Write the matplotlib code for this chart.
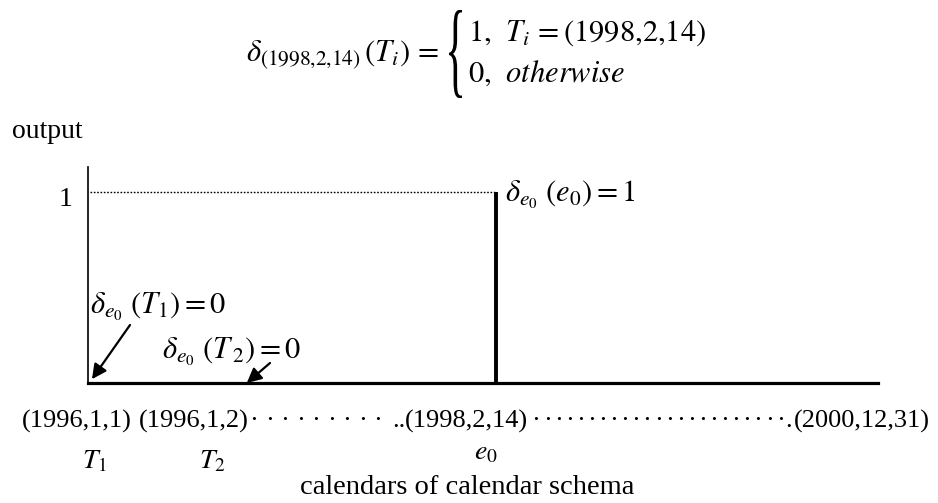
import matplotlib
matplotlib.use('Agg')
import matplotlib.pyplot as plt
from matplotlib.textpath import TextPath
from matplotlib.patches import PathPatch
from matplotlib.font_manager import FontProperties
from matplotlib.transforms import Affine2D, IdentityTransform

plt.rcParams['font.family'] = ['Liberation Serif', 'DejaVu Serif']
plt.rcParams['mathtext.fontset'] = 'stix'

# data: the calendars on the axis and the output of delta_(1998,2,14)
calendars = ['(1996,1,1)', '(1996,1,2)', '(1998,2,14)', '(2000,12,31)']
cal_names = ['$T_1$', '$T_2$', '$e_0$', '']
output = [0, 0, 1, 0]
x_slot = [0.005, 0.201, 0.517, 1.0]   # schematic place of each calendar on the axis

W, H = 938, 503
fig = plt.figure(figsize=(W / 100, H / 100), dpi=100)


def fx(x):
    return x / W


def fy(y):
    return 1 - y / H


def put(x, y, s, **kw):
    kw.setdefault('va', 'center')
    return fig.text(fx(x), fy(y), s, **kw)


# AXES
ax = fig.add_axes([fx(88), fy(383), (878 - 88) / W, (383 - 167) / H])
ax.set_xlim(0, 1)
ax.set_ylim(0, 1.131)
for s in ['top', 'right']:
    ax.spines[s].set_visible(False)
ax.spines['left'].set_linewidth(1.2)
ax.spines['bottom'].set_linewidth(2.3)
ax.set_xticks([])
ax.set_yticks([])

# stems and dotted guide
ax.vlines(x_slot, 0, output, colors='black', lw=2.8, capstyle='butt', clip_on=False)
i1 = output.index(1)
ax.hlines(output[i1], 0.003, x_slot[i1], colors='black', lw=1.0,
          linestyles=(0, (1.2, 1.2)), clip_on=False)

# arrows to the zero points
arr = dict(arrowstyle='-|>', color='black', lw=1.6, mutation_scale=22, shrinkA=0, shrinkB=0)
ax.annotate('', xy=(x_slot[0], 0.02), xycoords='data', xytext=(130, H - 325),
            textcoords='figure pixels', arrowprops=arr, annotation_clip=False)
ax.annotate('', xy=(x_slot[1], 0.0), xycoords='data', xytext=(270, H - 363),
            textcoords='figure pixels', arrowprops=arr, annotation_clip=False)

# labels inside plot
put(90, 307, r'$\delta_{e_0}\,\,(T_1) = 0$', fontsize=22)
put(162, 352, r'$\delta_{e_0}\,\,(T_{\,2}) = 0$', fontsize=22)
put(505, 195, r'$\delta_{e_0}\,\,(e_0) = 1$', fontsize=22)
put(66, 200, '1', fontsize=20, ha='center')
put(12, 131, 'output', fontsize=20)

# formula on top
put(246, 55, r'$\delta_{(1998{,}2{,}14)}\,(T_i)\, =$', fontsize=22)
put(468, 33, r'$1{,}\ \ T_i\, = (1998{,}2{,}14)$', fontsize=22)
put(468, 74, r'$0{,}\ \ otherwise$', fontsize=22)

fp = FontProperties(family='Liberation Serif')
tp = TextPath((0, 0), '{', size=1, prop=fp)
ext = tp.get_extents()
tr = Affine2D().translate(-ext.x0, -ext.y0).scale(13 / ext.width, 88 / ext.height).translate(449, H - 98)
fig.add_artist(PathPatch(tr.transform_path(tp), transform=IdentityTransform(), fc='black', lw=0))

# calendar row
row_y = 421
rs = 19
put(22, row_y, calendars[0], fontsize=rs)
put(139, row_y, calendars[1], fontsize=rs)
put(405, row_y, '..', fontsize=rs, ha='right')
put(405, row_y, calendars[2], fontsize=rs)
put(930, row_y, calendars[3], fontsize=rs, ha='right')
put(792, row_y, '.', fontsize=rs, ha='right')
for i in range(9):
    put(254 + i * 15.5, row_y, '\u00b7', fontsize=rs, ha='center')
for i in range(23):
    put(536 + i * 11.1, row_y, '\u00b7', fontsize=rs, ha='center')

put(95, 462, cal_names[0], fontsize=20, ha='center')
put(212, 462, cal_names[1], fontsize=20, ha='center')
put(486, 453, cal_names[2], fontsize=20, ha='center')
put(467, 487, 'calendars of calendar schema', fontsize=20.5, ha='center')

fig.savefig('out.png', dpi=100)
